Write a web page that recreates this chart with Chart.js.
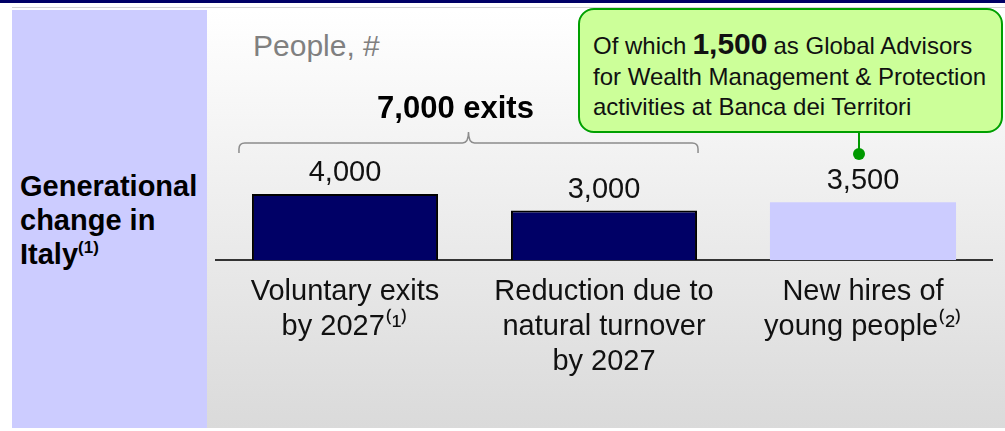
<!DOCTYPE html>
<html lang="en">
<head>
  <meta charset="UTF-8" />
  <title>Generational change in Italy</title>
  <script src="https://cdn.jsdelivr.net/npm/chart.js"></script>
  <style>
    * { box-sizing: border-box; }
    body {
      margin: 0;
      width: 1005px;
      height: 431px;
      background: #fff;
      font-family: 'Liberation Sans', Arial, sans-serif;
      position: relative;
      overflow: hidden;
    }
    .topbar { position: absolute; left: 0; top: 0; width: 1005px; height: 3px; background: #000066; }
    .rule { position: absolute; left: 12px; top: 7px; width: 993px; height: 1px; background: #d4d4d4; }
    .side {
      position: absolute; left: 12px; top: 10px; width: 195px; height: 418px;
      background: #ccccff;
    }
    .main {
      position: absolute; left: 207px; top: 10px; width: 798px; height: 418px;
      background: linear-gradient(#ffffff, #dadada);
    }
    .side-title {
      position: absolute; left: 20px; top: 169px;
      font-size: 29px; font-weight: bold; line-height: 34px; color: #000;
    }
    .side-title sup { font-size: 17px; vertical-align: 11px; line-height: 0; }
    .unit {
      position: absolute; left: 253px; top: 29px;
      font-size: 30px; line-height: 34px; color: #808080;
    }
    canvas { position: absolute; left: 0; top: 0; }
    .callout {
      position: absolute; left: 578px; top: 8px; width: 425px; height: 125px;
      background: #ccff99; border: 2px solid #00a000; border-radius: 16px;
      padding: 19px 0 0 13px;
      font-size: 24px; line-height: 30.5px; color: #111;
    }
    .callout b { font-size: 30px; margin: 0 6px; }
    .stem { position: absolute; left: 858px; top: 133px; width: 2px; height: 18px; background: #009900; }
    .dot { position: absolute; left: 853px; top: 148px; width: 12px; height: 12px; border-radius: 50%; background: #009900; }
  </style>
</head>
<body>
  <div class="topbar"></div>
  <div class="rule"></div>
  <div class="side"></div>
  <div class="main"></div>
  <div class="side-title">Generational<br>change in<br>Italy<sup>(1)</sup></div>
  <div class="unit">People, #</div>

  <canvas id="chart" width="1005" height="431"></canvas>

  <div class="callout">Of which<b>1,500</b>as Global Advisors<br>for Wealth Management &amp; Protection<br>activities at Banca dei Territori</div>
  <div class="stem"></div>
  <div class="dot"></div>

  <script>
    const categories = [
      ['Voluntary exits', 'by 2027\u207D\u00B9\u207E'],
      ['Reduction due to', 'natural turnover', 'by 2027'],
      ['New hires of', 'young people\u207D\u00B2\u207E']
    ];
    const people = [4000, 3000, 3500];
    const barColors = ['#000066', '#000066', '#ccccff'];
    const barBorders = [2, 2, 0];

    const fmt = v => v.toLocaleString('en-US');

    // value labels over the bars, plus the brace grouping the two exit bars
    const annotations = {
      id: 'annotations',
      afterDatasetsDraw(chart) {
        const ctx = chart.ctx;
        const bars = chart.getDatasetMeta(0).data;
        ctx.save();
        ctx.fillStyle = '#111';
        ctx.font = '29px "Liberation Sans", Arial, sans-serif';
        ctx.textAlign = 'center';
        ctx.textBaseline = 'middle';
        bars.forEach((bar, i) => ctx.fillText(fmt(people[i]), bar.x, bar.y - 21));

        const left = bars[0].x - bars[0].width / 2 - 13;
        const right = bars[1].x + bars[1].width / 2 + 1;
        const mid = (left + right) / 2;
        const y = 143, r = 6;
        ctx.strokeStyle = '#8c8c8c';
        ctx.lineWidth = 1.5;
        ctx.beginPath();
        ctx.moveTo(left, y + 10);
        ctx.lineTo(left, y + r);
        ctx.quadraticCurveTo(left, y, left + r, y);
        ctx.lineTo(mid - r, y);
        ctx.quadraticCurveTo(mid, y, mid, y - 11);
        ctx.quadraticCurveTo(mid, y, mid + r, y);
        ctx.lineTo(right - r, y);
        ctx.quadraticCurveTo(right, y, right, y + r);
        ctx.lineTo(right, y + 10);
        ctx.stroke();

        ctx.fillStyle = '#000';
        ctx.font = 'bold 31px "Liberation Sans", Arial, sans-serif';
        ctx.fillText(fmt(people[0] + people[1]) + ' exits', mid - 13, 109);
        ctx.restore();
      }
    };

    new Chart(document.getElementById('chart'), {
      type: 'bar',
      data: {
        labels: categories,
        datasets: [{
          data: people,
          backgroundColor: barColors,
          borderColor: '#000',
          borderWidth: barBorders,
          barPercentage: 0.8,
          categoryPercentage: 0.898
        }]
      },
      options: {
        responsive: false,
        animation: false,
        layout: { padding: { left: 215.5, right: 12.5, top: 128, bottom: 0 } },
        plugins: { legend: { display: false }, tooltip: { enabled: false } },
        scales: {
          x: {
            grid: { display: false, drawTicks: false },
            border: { display: true, color: '#333', width: 2 },
            ticks: {
              color: '#111',
              padding: 15,
              maxRotation: 0,
              autoSkip: false,
              font: { family: '"Liberation Sans", Arial, sans-serif', size: 29, lineHeight: 1.2 }
            },
            afterFit: s => { s.height = 171; }
          },
          y: { display: false, min: 0, max: 8000 }
        }
      },
      plugins: [annotations]
    });
  </script>
</body>
</html>
